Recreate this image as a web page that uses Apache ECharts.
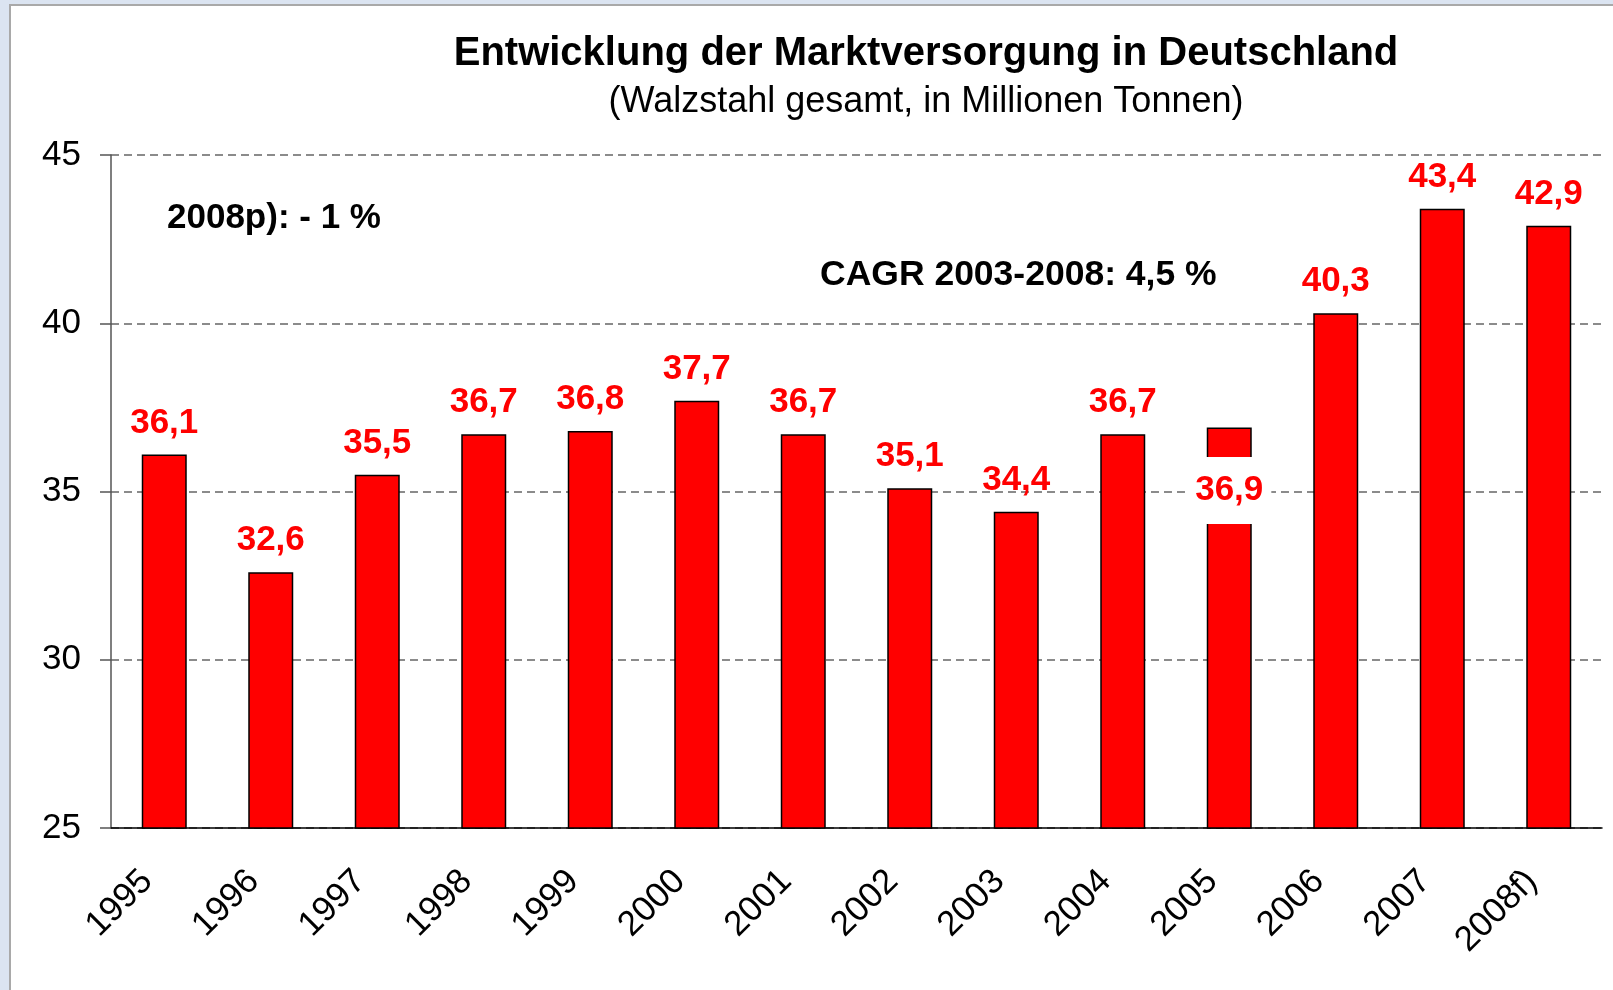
<!DOCTYPE html>
<html>
<head>
<meta charset="utf-8">
<script src="https://cdn.jsdelivr.net/npm/echarts@6/dist/echarts.min.js"></script>
<style>
	html, body { margin: 0; padding: 0; background: #dbe4f1; }
	#frame {
		position: absolute; left: 9px; top: 4px; right: 0; bottom: 0;
		background: #fff; border-left: 2px solid #a9a9a9; border-top: 2px solid #a9a9a9;
	}
	#chart { position: absolute; left: 0; top: 0; width: 1613px; height: 990px; }
</style>
</head>
<body>
<div id="frame"></div>
<div id="chart"></div>
<script>
	// Jahre und Marktversorgung (Mio. t)
	var years = ['1995', '1996', '1997', '1998', '1999', '2000', '2001', '2002', '2003', '2004', '2005', '2006', '2007', '2008f)'];
	var supply = [36.1, 32.6, 35.5, 36.7, 36.8, 37.7, 36.7, 35.1, 34.4, 36.7, 36.9, 40.3, 43.4, 42.9];
	var yTicks = [25, 30, 35, 40, 45];

	var FONT = 'Liberation Sans, Arial, sans-serif';

	function fmt(v) {
		return v.toFixed(1).replace('.', ',');
	}

	// 2005: Beschriftung sitzt im Balken auf weissem Grund
	var barData = supply.map(function (v, i) {
		if (years[i] === '2005') {
			return {
				value: v,
				label: {
					position: ['50%', 63],
					align: 'center',
					verticalAlign: 'middle',
					backgroundColor: '#ffffff',
					padding: [16, 8]
				}
			};
		}
		return v;
	});

	var myChart = echarts.init(document.getElementById('chart'));
	var option = {
		animation: false,
		textStyle: { fontFamily: FONT },
		grid: {
			left: 111,
			right: 11,
			top: 155,
			bottom: 162
		},
		graphic: [
			{
				type: 'text', x: 926, y: 54,
				style: { text: 'Entwicklung der Marktversorgung in Deutschland', font: 'bold 40px ' + FONT, fill: '#000', align: 'center', verticalAlign: 'middle' }
			},
			{
				type: 'text', x: 926, y: 102,
				style: { text: '(Walzstahl gesamt, in Millionen Tonnen)', font: '36px ' + FONT, fill: '#000', align: 'center', verticalAlign: 'middle' }
			},
			{
				type: 'text', x: 167, y: 218,
				style: { text: '2008p): - 1 %', font: 'bold 35px ' + FONT, fill: '#000', align: 'left', verticalAlign: 'middle' }
			},
			{
				type: 'text', x: 820, y: 275,
				style: { text: 'CAGR 2003-2008: 4,5 %', font: 'bold 35.5px ' + FONT, fill: '#000', align: 'left', verticalAlign: 'middle' }
			}
		],
		xAxis: {
			type: 'category',
			data: years,
			axisLine: { lineStyle: { color: '#000', width: 1.5 } },
			axisTick: { length: 11, lineStyle: { color: '#666', width: 1.5 } },
			axisLabel: {
				rotate: 45,
				margin: 31,
				padding: [0, 24, 0, 0],
				fontSize: 35,
				color: '#000',
				interval: 0
			}
		},
		yAxis: {
			type: 'value',
			min: yTicks[0],
			max: yTicks[yTicks.length - 1],
			interval: 5,
			axisLine: { show: true, lineStyle: { color: '#555', width: 1.5 } },
			axisTick: { show: true, length: 11, lineStyle: { color: '#555', width: 1.5 } },
			axisLabel: { fontSize: 35, color: '#000', margin: 30 },
			splitLine: { lineStyle: { color: '#666', type: [8, 5], width: 1.5 } }
		},
		series: [{
			type: 'bar',
			data: barData,
			barWidth: 45,
			itemStyle: { color: '#ff0000', borderColor: '#000', borderWidth: 1.5 },
			label: {
				show: true,
				position: 'top',
				distance: 14,
				color: '#ff0000',
				fontSize: 35,
				fontWeight: 'bold',
				formatter: function (p) { return fmt(p.value); }
			}
		}]
	};
	myChart.setOption(option);
</script>
</body>
</html>
